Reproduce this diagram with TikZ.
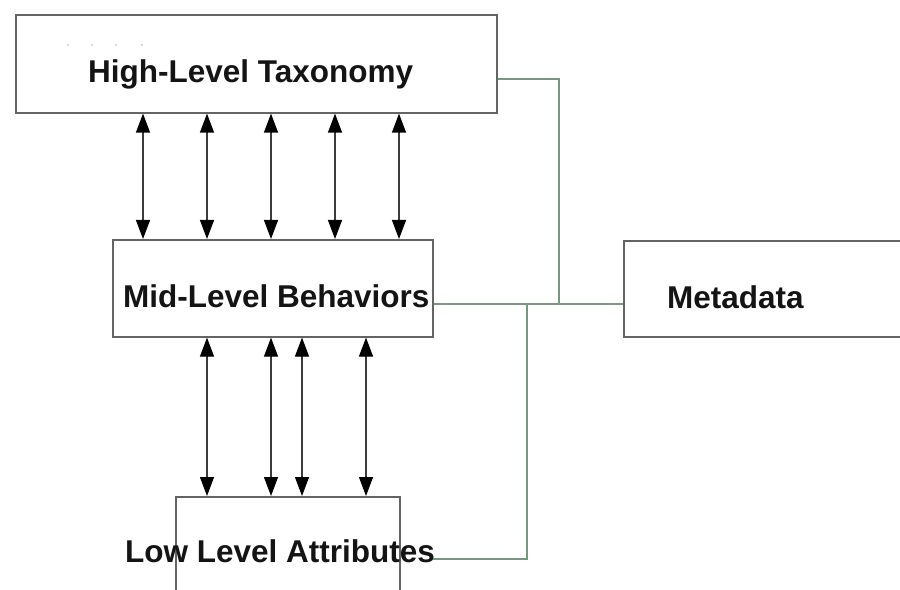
\documentclass[tikz,border=0pt]{standalone}
\usepackage{fontspec}
\setmainfont{Liberation Sans}
\usetikzlibrary{arrows.meta}
\definecolor{boxgray}{RGB}{100,100,100}
\definecolor{shaft}{RGB}{60,60,60}
\definecolor{linkgreen}{RGB}{120,150,128}
\definecolor{ink}{RGB}{20,20,20}
\tikzset{
  box/.style={draw=boxgray, line width=1.6bp, fill=none, inner sep=0pt, anchor=north west},
  lbl/.style={anchor=base west, inner sep=0pt, text=ink,
    font=\fontsize{31.5bp}{36bp}\selectfont\bfseries},
  dbl/.style={draw=shaft, line width=1.2bp,
    >={Triangle[length=19bp,width=14bp,color=black]}, <->},
  link/.style={draw=linkgreen, line width=1.2bp},
  speck/.style={fill=black!30, circle, inner sep=0pt, minimum size=1.6bp}
}
\begin{document}
\begin{tikzpicture}[x=1bp, y=-1bp]
  \useasboundingbox (0,0) rectangle (900,590);
  \clip (0,0) rectangle (900,590);

  % boxes
  \node[box, minimum width=481bp, minimum height=98bp] (hl) at (15,14) {};
  \node[box, minimum width=320bp, minimum height=97bp] (ml) at (112,239) {};
  \node[box, minimum width=290bp, minimum height=96bp] (md) at (623,240) {};
  \node[box, minimum width=224bp, minimum height=120bp] (ll) at (175,496) {};

  % labels
  \node[lbl] (hlt) at (88,83) {High-Level Taxonomy};
  \node[lbl] (mlt) at (123,307) {Mid-Level Behaviors};
  \node[lbl] (mdt) at (667,308) {Metadata};
  \node[lbl] (llt) at (125,562) {Low Level Attributes};

  % faint specks in the top box
  \foreach \x [count=\i] in {68,92,116,142}
    \node[speck] (sp\i) at (\x,45) {};

  % links between the top and middle layers
  \foreach \x in {143,207,271,335,399}
    \draw[dbl] (hl.south -| \x,0) -- (ml.north -| \x,0);

  % links between the middle and bottom layers
  \foreach \x in {207,271,302,366}
    \draw[dbl] (ml.south -| \x,0) -- (ll.north -| \x,0);

  % metadata connectors
  \coordinate (jt) at (559,304);
  \coordinate (jb) at (527,304);
  \coordinate (lowend) at (433,559);
  \draw[link] (hl.east |- 0,79) -| (jt);
  \draw[link] (ml.east |- 0,304) -- (md.west |- 0,304);
  \draw[link] (jb) |- (lowend);
\end{tikzpicture}
\end{document}
